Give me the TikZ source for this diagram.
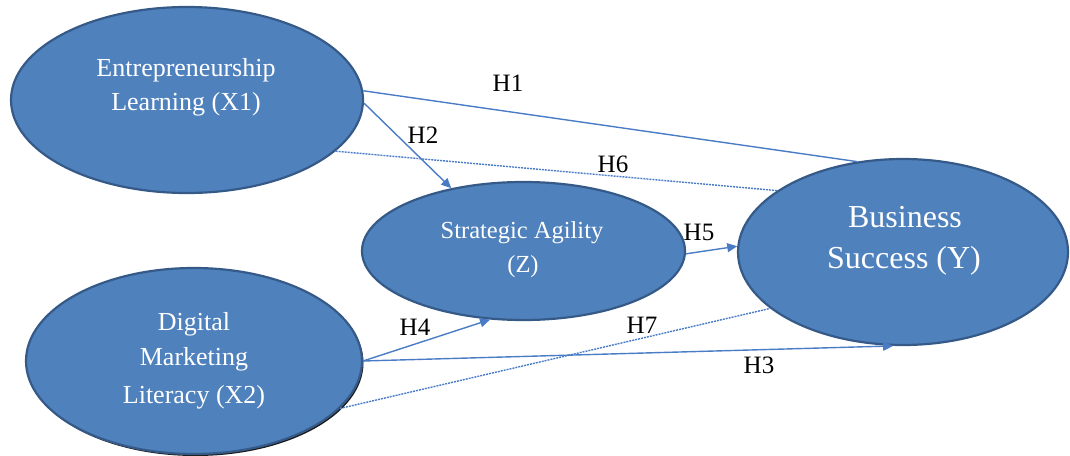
\documentclass[tikz,border=0pt]{standalone}
\usepackage{fontspec}
\setmainfont{Liberation Serif}
\usetikzlibrary{shapes.geometric,arrows.meta,shadows}
\definecolor{nodefill}{HTML}{4F81BD}
\definecolor{nodeedge}{HTML}{365A88}
\definecolor{linkc}{HTML}{4A7CC6}
\begin{document}
\begin{tikzpicture}[x=1pt,y=-1pt,
  latent/.style={ellipse, draw=nodeedge, line width=2.2pt, fill=nodefill, inner sep=0pt},
  intext/.style={text=white, anchor=base, inner sep=0pt},
  bigtext/.style={intext, font=\fontsize{26}{30}\selectfont},
  ztext/.style={intext, font=\fontsize{24.5}{28}\selectfont},
  ytext/.style={intext, font=\fontsize{32}{36}\selectfont},
  hyp/.style={text=black, anchor=base, inner sep=0pt, font=\fontsize{25}{28}\selectfont},
  link/.style={draw=linkc, line width=1.4pt},
  arr/.style={link, -{Triangle[length=10pt,width=9pt]}},
  dotlink/.style={link, dash pattern=on 2pt off 1pt}]
\useasboundingbox (0,0) rectangle (1070,455);

% ellipses
\node[latent, minimum width=352pt, minimum height=186pt] (X1) at (187,100) {};
\node[latent, minimum width=336pt, minimum height=186pt,
      drop shadow={shadow xshift=1.5pt, shadow yshift=-2pt, fill=black, opacity=0.9}] (X2) at (194,361) {};
\node[latent, minimum width=323pt, minimum height=138pt] (Z) at (523.5,251) {};
\node[latent, minimum width=330pt, minimum height=186pt] (Y) at (903,252) {};

% texts
\node[bigtext] (X1a) at (186,76) {Entrepreneurship};
\node[bigtext] (X1b) at (186,110) {Learning (X1)};
\node[bigtext] (X2a) at (194,330) {Digital};
\node[bigtext] (X2b) at (194,365) {Marketing};
\node[bigtext] (X2c) at (194,403) {Literacy (X2)};
\node[ztext] (Za) at (522,238) {Strategic Agility};
\node[ztext] (Zb) at (523,272) {(Z)};
\node[ytext] (Ya) at (905,227) {Business};
\node[ytext] (Yb) at (904,268) {Success (Y)};

% connectors
\draw[link] (X1.3) -- (Y.117);
\draw[arr] (X1.-1) -- (Z.139.6);
\draw[dotlink] (X1.-19) -- (Y.154.9);
\draw[arr] (Z.-1) -- (Y.178);
\draw[arr] (X2.0) -- (Z.-116.6);
\draw[arr] (X2.0) -- (Y.-96);
\draw[dotlink] (X2.-18.3) -- (Y.-157.1);

% hypothesis labels
\node[hyp] (H1) at (508,91) {H1};
\node[hyp] (H2) at (423,143) {H2};
\node[hyp] (H6) at (613,172) {H6};
\node[hyp] (H5) at (699,240) {H5};
\node[hyp] (H4) at (415,335) {H4};
\node[hyp] (H7) at (642,333) {H7};
\node[hyp] (H3) at (759,373) {H3};
\end{tikzpicture}
\end{document}
